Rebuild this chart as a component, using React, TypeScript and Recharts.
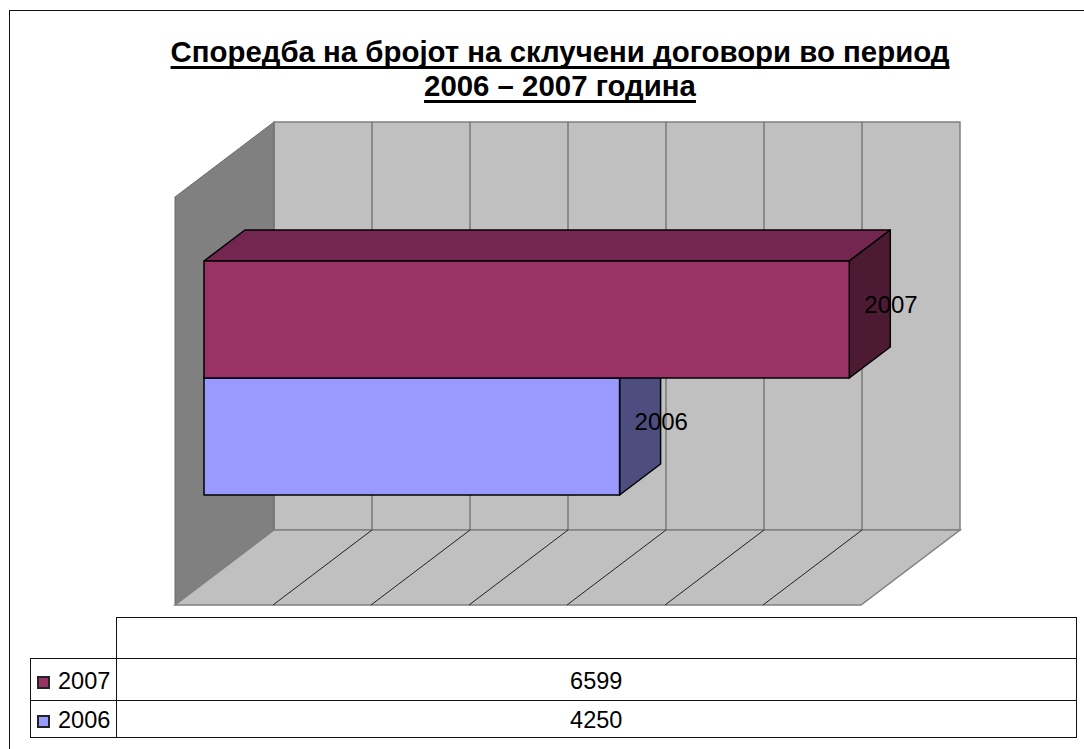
import { BarChart, Bar, XAxis, YAxis, ReferenceArea, LabelList } from 'recharts';

// drawn bottom row first so the 2007 bar paints over the top of the 2006 one
const categories = ['2006', '2007'];
const values = [4250, 6599];
const colors = ['#9999FF', '#993366'];
const topColors = ['#7373BF', '#732650'];
const sideColors = ['#4D4D80', '#4D1A33'];
const gridTicks = [0, 1000, 2000, 3000, 4000, 5000, 6000, 7000];
const titleLines = ['Споредба на бројот на склучени договори во период', '2006 – 2007 година'];

const chartData = categories.map((name, i) => ({
  name,
  value: values[i],
  fill: colors[i],
  top: topColors[i],
  side: sideColors[i],
}));

const FONT = '"Liberation Sans", Arial, sans-serif';
const plot = { left: 204, top: 261, width: 684.5, height: 234 };

// 3d offsets, measured from the front plane of the bars
const barDepth = { dx: 41, dy: -31 };
const backWall = { left: 274, right: 960, top: 122, bottom: 530 };
const wallDepth = { dx: 99, dy: 75 };

function Walls() {
  const { left, right, top, bottom } = backWall;
  const fl = left - wallDepth.dx;
  const fr = right - wallDepth.dx;
  const fy = bottom + wallDepth.dy;
  return (
    <g>
      <polygon points={`${left},${top} ${right},${top} ${right},${bottom} ${left},${bottom}`} fill="#C0C0C0" stroke="#808080" strokeWidth={1.5} />
      <polygon points={`${fl},${top + wallDepth.dy} ${left},${top} ${left},${bottom} ${fl},${fy}`} fill="#808080" stroke="#6b6b6b" strokeWidth={1} />
      <polygon points={`${fl},${fy} ${left},${bottom} ${right},${bottom} ${fr},${fy}`} fill="#C0C0C0" stroke="#808080" strokeWidth={1.5} />
    </g>
  );
}

function GridLine({ x }: any) {
  const backX = backWall.left + ((x - plot.left) * (backWall.right - backWall.left)) / plot.width;
  return (
    <g>
      <line x1={backX} y1={backWall.top} x2={backX} y2={backWall.bottom} stroke="#666" strokeWidth={1.2} />
      <line x1={backX} y1={backWall.bottom} x2={backX - wallDepth.dx} y2={backWall.bottom + wallDepth.dy} stroke="#222" strokeWidth={1} />
    </g>
  );
}

function Bar3d({ x, y, width, height, fill, top, side }: any) {
  const { dx, dy } = barDepth;
  const r = x + width;
  const b = y + height;
  return (
    <g stroke="#000" strokeWidth={1.5} strokeLinejoin="round">
      <polygon points={`${x},${y} ${x + dx},${y + dy} ${r + dx},${y + dy} ${r},${y}`} fill={top} />
      <polygon points={`${r},${y} ${r + dx},${y + dy} ${r + dx},${b + dy} ${r},${b}`} fill={side} />
      <rect x={x} y={y} width={width} height={height} fill={fill} />
    </g>
  );
}

function SeriesLabel({ x, y, width, height, value }: any) {
  return (
    <text x={x + width + 15} y={y + height / 2 - 15} dominantBaseline="central" fontSize={24} fontFamily={FONT} fill="#000">
      {value}
    </text>
  );
}

const cell = { border: '1.5px solid #111', padding: 0, paddingTop: 4, textAlign: 'center' as const, fontSize: 23.5, fontFamily: FONT, boxSizing: 'border-box' as const };

function DataTable() {
  const rows = categories.map((name, i) => ({ name, value: values[i], color: colors[i] })).reverse();
  const rowHeights = [41.5, 37.5];
  return (
    <table style={{ position: 'absolute', left: 30, top: 617, width: 1046.5, height: 120, borderCollapse: 'collapse', tableLayout: 'fixed', color: '#000' }}>
      <colgroup>
        <col style={{ width: 86 }} />
        <col />
      </colgroup>
      <tbody>
        <tr style={{ height: 41 }}>
          <td style={{ ...cell, borderTop: 'none', borderLeft: 'none' }} />
          <td style={cell} />
        </tr>
        {rows.map((row, i) => (
          <tr key={row.name} style={{ height: rowHeights[i] }}>
            <td style={{ ...cell, textAlign: 'left', whiteSpace: 'nowrap', paddingLeft: 6 }}>
              <span style={{ display: 'inline-block', width: 9, height: 9, background: row.color, border: '2px solid #222', marginRight: 8, verticalAlign: 0 }} />
              {row.name}
            </td>
            <td style={cell}>{row.value}</td>
          </tr>
        ))}
      </tbody>
    </table>
  );
}

export default function App() {
  return (
    <div style={{ position: 'absolute', left: 0, top: 0, width: 1084, height: 749, overflow: 'hidden', background: '#fff' }}>
      <div style={{ position: 'absolute', left: 8.5, top: 10, width: 1200, height: 900, border: '1.5px solid #111', boxSizing: 'border-box' }} />
      <div style={{ position: 'absolute', left: 0, top: 35, width: 1120, textAlign: 'center', fontFamily: FONT, fontWeight: 700, fontSize: 29.4, lineHeight: '33.5px', textDecoration: 'underline', textDecorationThickness: 3, textUnderlineOffset: 4, textDecorationSkipInk: 'none', color: '#000' }}>
        {titleLines.map((line) => (
          <div key={line}>{line}</div>
        ))}
      </div>
      <BarChart
        width={1084}
        height={749}
        data={chartData}
        layout="vertical"
        barCategoryGap={0}
        margin={{ left: plot.left, top: plot.top, right: 1084 - plot.left - plot.width, bottom: 749 - plot.top - plot.height }}
        style={{ position: 'absolute', left: 0, top: 0 }}
      >
        <XAxis type="number" domain={[0, 7000]} ticks={gridTicks} hide />
        <YAxis type="category" dataKey="name" reversed hide />
        <ReferenceArea x1={0} x2={7000} shape={<Walls />} ifOverflow="visible" />
        {gridTicks.slice(1, -1).map((t) => (
          <ReferenceArea key={t} x1={t} x2={t} shape={<GridLine />} ifOverflow="visible" />
        ))}
        <Bar dataKey="value" shape={<Bar3d />} isAnimationActive={false}>
          <LabelList dataKey="name" content={<SeriesLabel />} />
        </Bar>
      </BarChart>
      <DataTable />
    </div>
  );
}
